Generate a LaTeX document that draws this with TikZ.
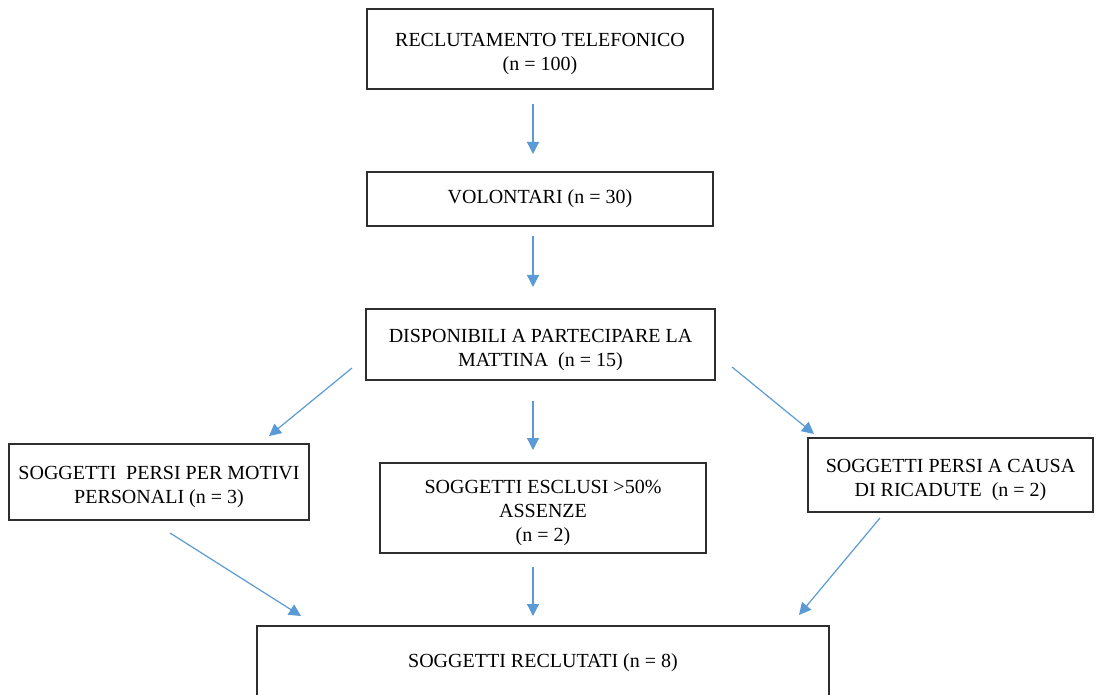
\documentclass[tikz,border=0pt]{standalone}
\usepackage{fontspec}
\setmainfont{Liberation Serif}
\usepackage{tikz}
\usetikzlibrary{arrows.meta,positioning}
\definecolor{boxline}{HTML}{2E2E2E}
\definecolor{arrblue}{HTML}{5B9BD5}
\newcommand{\topstrut}{\rule{0pt}{24pt}}

\begin{document}
\begin{tikzpicture}[x=1pt,y=-1pt,font=\fontsize{20}{24}\selectfont,
  flowbox/.style={draw=boxline,line width=1.3pt,align=center,inner sep=0pt},
  arr/.style={draw=arrblue,line width=1.2pt,-{Triangle[length=12pt,width=12pt]}}]
\clip (0,0) rectangle (1098,695);
\fill[white] (0,0) rectangle (1098,695);
\node[flowbox,minimum width=346pt,minimum height=80pt] (tel) at (540,49)
  {\topstrut RECLUTAMENTO TELEFONICO\\(n = 100)};
\node[flowbox,minimum width=346pt,minimum height=54pt] (vol) at (540,199)
  {VOLONTARI (n = 30)};
\node[flowbox,minimum width=349pt,minimum height=71pt] (disp) at (540.5,344.5)
  {\topstrut DISPONIBILI A PARTECIPARE LA\\MATTINA\ \ (n = 15)};
\node[flowbox,minimum width=300pt,minimum height=76pt] (pers) at (159,482)
  {\topstrut SOGGETTI\ \ PERSI PER MOTIVI\\PERSONALI (n = 3)};
\node[flowbox,minimum width=326pt,minimum height=90pt] (escl) at (543,508)
  {\topstrut SOGGETTI ESCLUSI >50\%\\ASSENZE\\(n = 2)};
\node[flowbox,minimum width=285pt,minimum height=74pt] (ric) at (950.5,475)
  {\topstrut SOGGETTI PERSI A CAUSA\\DI RICADUTE\ \ (n = 2)};
\node[flowbox,minimum width=572pt,minimum height=74pt] (recl) at (543,663)
  {SOGGETTI RECLUTATI (n = 8)};
% arrow ends
\coordinate (t1) at (533,104); \coordinate (h1) at (533,154);
\coordinate (t2) at (533,236); \coordinate (h2) at (533,287);
\coordinate (t3) at (533,401); \coordinate (h3) at (533,450);
\coordinate (t4) at (352,368); \coordinate (h4) at (269,436);
\coordinate (t5) at (732,367); \coordinate (h5) at (814,434);
\coordinate (t6) at (170,533); \coordinate (h6) at (301,616);
\coordinate (t7) at (533,567); \coordinate (h7) at (533,616);
\coordinate (t8) at (880,518); \coordinate (h8) at (799,615);
\foreach \i in {1,...,8}
  \draw[arr] (t\i) -- (h\i);
\end{tikzpicture}
\end{document}
